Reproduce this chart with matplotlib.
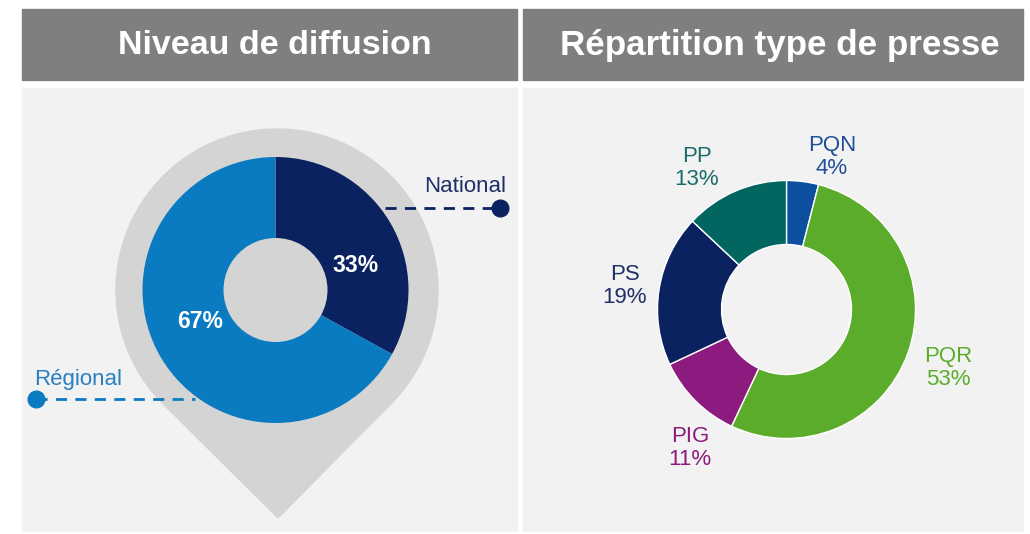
import numpy as np
import matplotlib.pyplot as plt
from matplotlib.patches import Rectangle, Circle, Polygon

# données
diff_labels = ["National", "Régional"]
diff_values = [33, 67]
diff_colors = ["#0b2260", "#0a7bc1"]

presse_labels = ["PQN", "PQR", "PIG", "PS", "PP"]
presse_values = [4, 53, 11, 19, 13]
presse_colors = ["#0b4f9e", "#5bac2b", "#8c1a7f", "#0b2260", "#00665f"]
presse_txtcol = ["#1f4f99", "#5bac2b", "#8c1a7f", "#1f2f68", "#1b6d69"]

W, H = 1030, 534
plt.rcParams['font.family'] = ['Liberation Sans', 'DejaVu Sans']
fig = plt.figure(figsize=(W / 100, H / 100), dpi=100)
ax = fig.add_axes([0, 0, 1, 1])


def Y(y):
    return H - y


# fonds et en-têtes
for x0, x1, titre, xc, fs in [(22, 517, "Niveau de diffusion", 275, 24.5),
                              (523, 1023, "Répartition type de presse", 780, 25.2)]:
    ax.add_patch(Rectangle((x0, Y(80)), x1 - x0, 71, color="#7f7f7f", zorder=1))
    ax.add_patch(Rectangle((x0, Y(531)), x1 - x0, 531 - 88, color="#f2f2f2", zorder=1))
    ax.text(xc, Y(45), titre, color="white", fontsize=fs, fontweight="bold",
            ha="center", va="center", zorder=5)

# épingle
cx, cy, R = 277, Y(290), 161
tx, ty = 278, Y(518)
d = np.hypot(tx - cx, ty - cy)
th = np.arccos(R / d)
base = np.arctan2(ty - cy, tx - cx)
p1 = (cx + R * np.cos(base + th), cy + R * np.sin(base + th))
p2 = (cx + R * np.cos(base - th), cy + R * np.sin(base - th))
ax.add_patch(Circle((cx, cy), R, color="#d4d4d4", zorder=2))
ax.add_patch(Polygon([p1, (tx, ty), p2], color="#d4d4d4", zorder=2))

# donut gauche
wedges, _ = ax.pie(diff_values, colors=diff_colors, startangle=90, counterclock=False,
                   center=(275.5, Y(290)), radius=133,
                   wedgeprops=dict(width=133 - 52, linewidth=0))
for w in wedges:
    w.set_zorder(3)
ax.text(355, Y(265), f"{diff_values[0]}%", color="white", fontsize=16.5, fontweight="bold",
        ha="center", va="center", zorder=5)
ax.text(200, Y(322), f"{diff_values[1]}%", color="white", fontsize=16.5, fontweight="bold",
        ha="center", va="center", zorder=5)

# renvois
ax.plot([385, 500], [Y(208), Y(208)], color=diff_colors[0], lw=2, ls=(0, (4, 3)), zorder=4)
ax.plot([500], [Y(208)], "o", color=diff_colors[0], ms=12, zorder=4)
ax.text(506, Y(186), diff_labels[0], color="#1f2f68", fontsize=16, ha="right", va="center", zorder=5)
ax.plot([36, 195], [Y(399), Y(399)], color=diff_colors[1], lw=2, ls=(0, (4, 3)), zorder=4)
ax.plot([36], [Y(399)], "o", color=diff_colors[1], ms=12, zorder=4)
ax.text(34, Y(379), diff_labels[1], color="#2a7fc0", fontsize=16, ha="left", va="center", zorder=5)

# donut droite
wedges, _ = ax.pie(presse_values, colors=presse_colors, startangle=90, counterclock=False,
                   center=(786.5, Y(309.5)), radius=129,
                   wedgeprops=dict(width=129 - 65, linewidth=1, edgecolor="white"))
for w in wedges:
    w.set_zorder(3)
pos = [(832, 157), (948, 368), (690, 448), (625, 286), (697, 168)]
for lab, val, col, (x, y) in zip(presse_labels, presse_values, presse_txtcol, pos):
    ax.text(x, Y(y), f"{lab}\n{val}%", color=col, fontsize=16, ha="center", va="center",
            linespacing=1.15, zorder=5)

ax.set_xlim(0, W)
ax.set_ylim(0, H)
ax.set_aspect("auto")
ax.axis("off")
fig.savefig("out.png", dpi=100, facecolor="white")
